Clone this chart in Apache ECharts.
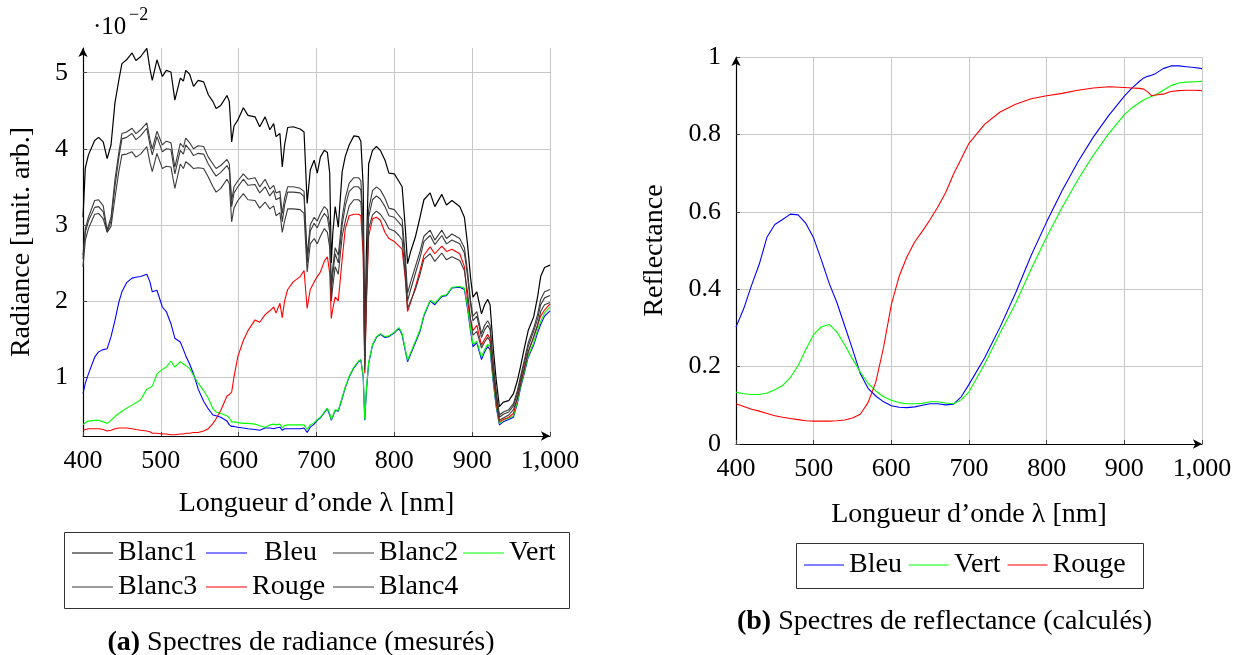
<!DOCTYPE html>
<html>
<head>
<meta charset="utf-8">
<script src="https://cdn.jsdelivr.net/npm/echarts@6/dist/echarts.min.js"></script>
<style>
html,body{margin:0;padding:0;background:#fff;}
#chart{width:1243px;height:655px;}
</style>
</head>
<body>
<div id="chart"></div>
<script>
// ---------- Radiance (left) ----------
const radNm = [400,403,407,415,420,426,431,436,441,446,450,456,463,468,474,482,486,489,495,502,507,513,518,525,529,532,537,542,548,555,561,567,571,577,585,588,591,594,599,606,612,621,627,634,640,645,648,653,656,659,663,670,679,684,688,692,697,701,705,710,714,717,719,721,724,728,733,737,742,748,754,757,760,762,764,767,772,777,782,788,793,800,806,810,814,817,821,827,833,838,846,852,861,867,874,884,890,894,898,901,906,912,916,920,923,927,931,935,940,947,953,958,962,967,972,979,984,988,993,1000];

const blanc1 = [3.1,3.75,3.92,4.11,4.15,4.09,3.87,4.05,4.6,4.9,5.12,5.17,5.26,5.16,5.21,5.32,5.05,4.9,5.17,4.95,5.03,5.01,4.64,4.93,4.89,5.03,4.98,4.82,4.9,4.88,4.71,4.62,4.53,4.57,4.7,4.62,4.09,4.3,4.38,4.54,4.44,4.42,4.29,4.42,4.25,4.33,4.16,4.2,3.76,4.05,4.28,4.29,4.26,4.22,3.28,3.72,3.85,3.68,3.89,3.98,3.95,3.68,2.5,2.9,3.24,2.97,3.7,3.9,4.05,4.17,4.16,4.1,3.5,1.35,2.6,3.8,3.98,4.03,3.98,3.85,3.68,3.67,3.57,3.5,2.97,2.49,2.65,2.84,3.1,3.33,3.42,3.24,3.4,3.26,3.32,3.24,3.1,2.75,2.3,2.05,2.12,1.83,1.95,2.02,1.95,1.39,0.95,0.61,0.67,0.69,0.78,0.95,1.13,1.38,1.61,1.79,2.05,2.32,2.44,2.47];

const blanc2 = [2.6,2.95,3.1,3.32,3.33,3.25,2.93,3.1,3.59,3.95,4.2,4.22,4.27,4.2,4.25,4.34,4.12,4.0,4.23,4.05,4.1,4.08,3.76,4.07,4.02,4.14,4.08,4.0,4.04,4.03,3.89,3.8,3.74,3.78,3.86,3.8,3.32,3.5,3.58,3.67,3.6,3.62,3.5,3.6,3.47,3.52,3.42,3.44,3.15,3.35,3.5,3.5,3.48,3.44,2.6,3.0,3.1,3.05,3.15,3.24,3.2,3.0,2.2,2.45,2.7,2.6,3.1,3.35,3.55,3.62,3.62,3.58,3.0,1.2,2.2,3.2,3.45,3.5,3.46,3.35,3.22,3.2,3.12,3.07,2.6,2.1,2.25,2.45,2.65,2.85,2.93,2.8,2.93,2.82,2.88,2.82,2.7,2.4,2.0,1.8,1.86,1.57,1.68,1.74,1.68,1.2,0.8,0.5,0.54,0.57,0.65,0.82,1.0,1.22,1.45,1.64,1.82,2.02,2.12,2.15];

const blanc3 = [2.55,2.9,3.05,3.23,3.24,3.17,2.91,3.05,3.5,3.88,4.13,4.15,4.2,4.12,4.17,4.27,4.05,3.92,4.16,3.96,4.0,3.99,3.67,3.98,3.93,4.05,3.99,3.91,3.94,3.93,3.8,3.7,3.64,3.69,3.78,3.72,3.24,3.42,3.5,3.6,3.52,3.53,3.42,3.5,3.38,3.45,3.33,3.36,3.04,3.26,3.43,3.43,3.42,3.37,2.5,2.92,3.02,2.96,3.06,3.15,3.1,2.9,2.1,2.35,2.62,2.5,3.0,3.25,3.44,3.5,3.5,3.46,2.9,1.15,2.1,3.1,3.33,3.38,3.34,3.24,3.12,3.1,3.03,2.98,2.5,2.0,2.15,2.36,2.57,2.78,2.86,2.74,2.86,2.75,2.8,2.75,2.63,2.33,1.95,1.74,1.8,1.52,1.62,1.68,1.62,1.16,0.76,0.47,0.51,0.54,0.62,0.78,0.96,1.18,1.4,1.6,1.76,1.95,2.04,2.07];

const blanc4 = [2.45,2.8,2.95,3.14,3.15,3.08,2.9,2.98,3.35,3.7,3.92,3.93,3.96,3.89,3.93,4.03,3.82,3.7,3.94,3.74,3.77,3.76,3.48,3.8,3.74,3.83,3.79,3.74,3.75,3.74,3.63,3.5,3.43,3.48,3.6,3.54,3.04,3.22,3.32,3.41,3.33,3.32,3.22,3.3,3.21,3.25,3.12,3.16,2.9,3.05,3.21,3.21,3.2,3.15,2.38,2.75,2.82,2.75,2.85,2.95,2.9,2.7,2.0,2.2,2.45,2.35,2.85,3.05,3.25,3.33,3.33,3.3,2.75,1.1,2.0,2.95,3.13,3.18,3.14,3.05,2.95,2.92,2.86,2.8,2.35,1.9,2.0,2.15,2.35,2.55,2.62,2.52,2.63,2.54,2.58,2.53,2.4,2.12,1.75,1.55,1.6,1.38,1.46,1.52,1.47,1.05,0.7,0.43,0.46,0.5,0.57,0.72,0.9,1.1,1.33,1.52,1.68,1.86,1.95,1.98];

const rougeRad = [0.3,0.31,0.32,0.32,0.32,0.31,0.29,0.3,0.32,0.33,0.33,0.33,0.32,0.31,0.3,0.29,0.28,0.26,0.26,0.25,0.25,0.24,0.24,0.25,0.25,0.26,0.26,0.27,0.27,0.29,0.32,0.39,0.45,0.56,0.75,0.77,0.8,1.0,1.27,1.48,1.61,1.75,1.72,1.82,1.87,1.92,1.84,1.97,1.78,2.0,2.15,2.25,2.32,2.4,1.9,2.15,2.25,2.32,2.38,2.52,2.58,2.36,1.77,1.9,2.05,2.0,2.55,2.95,3.12,3.14,3.14,3.12,2.6,1.05,1.9,2.85,3.08,3.1,3.06,2.9,2.82,2.78,2.72,2.68,2.3,1.86,1.98,2.18,2.4,2.6,2.71,2.62,2.72,2.65,2.68,2.62,2.45,2.0,1.75,1.61,1.68,1.42,1.5,1.56,1.5,1.04,0.65,0.41,0.44,0.47,0.52,0.72,0.91,1.12,1.33,1.53,1.68,1.8,1.88,1.96];

const bleuRad = [0.78,0.92,1.04,1.26,1.33,1.36,1.37,1.53,1.74,1.98,2.12,2.24,2.3,2.31,2.32,2.35,2.25,2.12,2.14,1.92,1.86,1.7,1.51,1.46,1.36,1.28,1.17,1.04,0.84,0.68,0.58,0.5,0.49,0.47,0.42,0.37,0.35,0.35,0.34,0.33,0.32,0.31,0.3,0.33,0.33,0.32,0.33,0.34,0.3,0.32,0.32,0.32,0.32,0.33,0.27,0.34,0.38,0.43,0.46,0.53,0.58,0.5,0.43,0.48,0.56,0.55,0.72,0.86,1.0,1.12,1.2,1.22,1.0,0.43,0.8,1.18,1.42,1.52,1.56,1.52,1.53,1.58,1.64,1.55,1.35,1.2,1.3,1.45,1.6,1.8,2.0,1.95,2.06,2.07,2.17,2.18,2.15,1.9,1.6,1.4,1.45,1.23,1.33,1.4,1.36,0.94,0.6,0.37,0.41,0.44,0.47,0.65,0.85,1.05,1.26,1.42,1.58,1.69,1.8,1.87];

const vertRad = [0.37,0.4,0.42,0.43,0.43,0.41,0.39,0.43,0.48,0.52,0.55,0.59,0.63,0.66,0.7,0.84,0.86,0.88,1.04,1.1,1.13,1.21,1.13,1.2,1.17,1.15,1.11,1.02,0.92,0.82,0.72,0.58,0.54,0.52,0.49,0.46,0.41,0.41,0.4,0.39,0.39,0.38,0.36,0.34,0.37,0.38,0.37,0.38,0.33,0.36,0.37,0.37,0.37,0.37,0.31,0.37,0.4,0.44,0.47,0.54,0.59,0.52,0.44,0.49,0.57,0.56,0.73,0.87,1.01,1.13,1.21,1.23,1.02,0.44,0.82,1.19,1.43,1.53,1.57,1.53,1.54,1.59,1.65,1.57,1.37,1.22,1.32,1.47,1.62,1.82,2.01,1.97,2.07,2.08,2.18,2.19,2.17,1.93,1.63,1.43,1.47,1.26,1.36,1.43,1.4,0.97,0.62,0.39,0.43,0.46,0.49,0.67,0.87,1.07,1.28,1.45,1.62,1.73,1.84,1.92];

// ---------- Reflectance (right) ----------
const refNm = [400,410,420,430,440,450,460,470,480,490,500,510,520,530,540,550,560,570,580,590,600,610,620,630,640,650,660,670,680,690,700,720,740,760,780,800,820,840,860,880,900,910,920,925,930,935,940,950,960,970,980,990,1000];
const bleuRef = [0.302,0.35,0.41,0.465,0.535,0.567,0.58,0.594,0.592,0.57,0.532,0.475,0.415,0.365,0.305,0.245,0.182,0.144,0.124,0.109,0.099,0.095,0.094,0.096,0.1,0.104,0.104,0.101,0.103,0.122,0.154,0.222,0.302,0.39,0.487,0.574,0.655,0.728,0.793,0.849,0.899,0.92,0.938,0.946,0.95,0.953,0.957,0.97,0.977,0.977,0.975,0.973,0.97];
const vertRef = [0.134,0.13,0.128,0.128,0.132,0.14,0.151,0.172,0.203,0.245,0.283,0.303,0.309,0.289,0.256,0.22,0.186,0.157,0.137,0.122,0.113,0.107,0.104,0.104,0.105,0.109,0.109,0.106,0.104,0.114,0.135,0.206,0.287,0.363,0.452,0.535,0.612,0.682,0.746,0.802,0.851,0.869,0.883,0.889,0.894,0.898,0.902,0.914,0.926,0.933,0.935,0.936,0.937];
const rougeRef = [0.104,0.097,0.09,0.085,0.079,0.073,0.069,0.066,0.063,0.06,0.059,0.059,0.059,0.06,0.062,0.067,0.077,0.107,0.16,0.25,0.36,0.433,0.483,0.522,0.55,0.58,0.613,0.65,0.697,0.737,0.777,0.826,0.858,0.878,0.892,0.9,0.906,0.914,0.92,0.923,0.921,0.92,0.919,0.917,0.91,0.9,0.902,0.904,0.911,0.913,0.914,0.914,0.913];

const xTicks = [400,500,600,700,800,900,1000];
const radYTicks = [1,2,3,4,5];

const FONT = 'Liberation Serif';
const zip = (xs, ys) => xs.map((x, i) => [x, ys[i]]);

const chart = echarts.init(document.getElementById('chart'), null, {renderer:'canvas'});

function xAxisCfg(gridIndex, nameGap){
  return {
    type:'value', gridIndex, min:400, max:1000, interval:100,
    name:'Longueur d\u2019onde \u03bb [nm]', nameLocation:'middle', nameGap,
    nameTextStyle:{fontFamily:FONT, fontSize:28, color:'#000'},
    axisLine:{show:true, onZero:false, lineStyle:{color:'#000', width:1.2}, symbol:['none','arrow'], symbolSize:[7,9]},
    axisTick:{show:true, inside:true, length:4, lineStyle:{color:'#444'}},
    axisLabel:{margin:12, fontFamily:FONT, fontSize:26, color:'#000', formatter:v => v === 1000 ? '1,000' : String(v)},
    splitLine:{show:true, lineStyle:{color:'#c8c8c8', width:1}}
  };
}

const series = [];
function addLine(name, xs, ys, color, xi, yi, width){
  series.push({name, type:'line', xAxisIndex:xi, yAxisIndex:yi, data:zip(xs, ys),
    symbol:'none', showSymbol:false, smooth:false, silent:true,
    lineStyle:{color, width:width || 1.1}, itemStyle:{color}});
}
addLine('Blanc1', radNm, blanc1, '#000000', 0, 0, 1.2);
addLine('Bleu', radNm, bleuRad, '#0000ff', 0, 0);
addLine('Blanc2', radNm, blanc2, '#3a3a3a', 0, 0);
addLine('Vert', radNm, vertRad, '#00ff00', 0, 0);
addLine('Blanc3', radNm, blanc3, '#3a3a3a', 0, 0);
addLine('Rouge', radNm, rougeRad, '#ff0000', 0, 0);
addLine('Blanc4', radNm, blanc4, '#3a3a3a', 0, 0);
addLine('Bleu', refNm, bleuRef, '#0000ff', 1, 1);
addLine('Vert', refNm, vertRef, '#00ff00', 1, 1);
addLine('Rouge', refNm, rougeRef, '#ff0000', 1, 1);

const legTxt = {fontFamily:FONT, fontSize:28, color:'#000'};
function leg(name, left, top, extra){
  return Object.assign({data:[name], left, top, padding:0, icon:'rect', itemWidth:41, itemHeight:1.2,
    selectedMode:false, textStyle:Object.assign({}, legTxt)}, extra || {});
}

const option = {
  animation:false,
  backgroundColor:'#fff',
  grid:[
    {left:83, top:48, width:467, height:388},
    {left:736, top:57, width:466, height:387}
  ],
  xAxis:[xAxisCfg(0, 54), xAxisCfg(1, 57)],
  yAxis:[
    {type:'value', gridIndex:0, min:0.224, max:5.325,
     name:'Radiance [unit. arb.]', nameLocation:'middle', nameGap:47, nameRotate:90,
     nameTextStyle:{fontFamily:FONT, fontSize:28, color:'#000'},
     axisLine:{show:true, lineStyle:{color:'#000', width:1.2}, symbol:['none','arrow'], symbolSize:[7,9]},
     axisTick:{show:true, inside:true, length:4, customValues:radYTicks, lineStyle:{color:'#444'}},
     axisLabel:{margin:15, fontFamily:FONT, fontSize:26, color:'#000', customValues:radYTicks},
     splitLine:{show:true, lineStyle:{color:'#c8c8c8', width:1}}},
    {type:'value', gridIndex:1, min:0, max:1, interval:0.2,
     name:'Reflectance', nameLocation:'middle', nameGap:67, nameRotate:90,
     nameTextStyle:{fontFamily:FONT, fontSize:28, color:'#000'},
     axisLine:{show:true, lineStyle:{color:'#000', width:1.2}, symbol:['none','arrow'], symbolSize:[7,9]},
     axisTick:{show:true, inside:true, length:4, lineStyle:{color:'#444'}},
     axisLabel:{margin:15, fontFamily:FONT, fontSize:26, color:'#000'},
     splitLine:{show:true, lineStyle:{color:'#c8c8c8', width:1}}}
  ],
  legend:[
    leg('Blanc1', 72, 539),
    leg('Bleu', 206, 539, {textStyle:Object.assign({}, legTxt, {padding:[0,0,0,12]})}),
    leg('Blanc2', 333, 539),
    leg('Vert', 463, 539),
    leg('Blanc3', 72, 573),
    leg('Rouge', 206, 573),
    leg('Blanc4', 333, 573),
    {data:['Bleu','Vert','Rouge'], left:804, top:551, padding:0, itemGap:7, icon:'rect', itemWidth:40, itemHeight:1.2,
     selectedMode:false, textStyle:Object.assign({}, legTxt)}
  ],
  graphic:[
    {type:'rect', shape:{x:64.5, y:532.5, width:505, height:76}, style:{fill:'none', stroke:'#333', lineWidth:1}, silent:true},
    {type:'rect', shape:{x:796.5, y:543.5, width:347, height:45}, style:{fill:'none', stroke:'#333', lineWidth:1}, silent:true},
    {type:'text', left:93, top:15, style:{text:'\u00b710', fontFamily:FONT, fontSize:25, fill:'#000'}, silent:true},
    {type:'text', left:129, top:6, style:{text:'\u22122', fontFamily:FONT, fontSize:18, fill:'#000'}, silent:true},
    {type:'text', x:301, y:643, style:{text:'{b|(a)} Spectres de radiance (mesur\u00e9s)', align:'center', verticalAlign:'middle',
      fontFamily:FONT, fontSize:28, fill:'#000', rich:{b:{fontFamily:FONT, fontSize:28, fontWeight:'bold', fill:'#000'}}}, silent:true},
    {type:'text', x:944.5, y:622, style:{text:'{b|(b)} Spectres de reflectance (calcul\u00e9s)', align:'center', verticalAlign:'middle',
      fontFamily:FONT, fontSize:28, fill:'#000', rich:{b:{fontFamily:FONT, fontSize:28, fontWeight:'bold', fill:'#000'}}}, silent:true}
  ],
  series
};
chart.setOption(option);
</script>
</body>
</html>
